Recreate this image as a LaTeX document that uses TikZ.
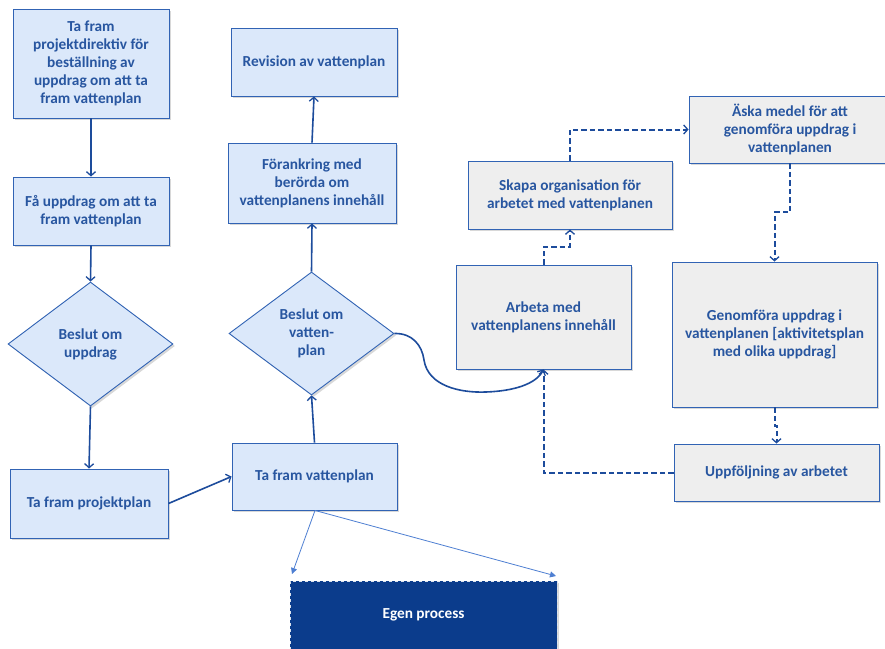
\documentclass[tikz,border=0pt]{standalone}
\usepackage{fontspec}
\setmainfont{Carlito}
\usetikzlibrary{shapes.geometric,arrows.meta,shadows}
\definecolor{lblue}{HTML}{DBE8FA}
\definecolor{bord}{HTML}{3163B4}
\definecolor{txt}{HTML}{2856A0}
\definecolor{arr}{HTML}{1D4C9C}
\definecolor{lgray}{HTML}{EEEEEE}
\definecolor{egen}{HTML}{0B3C8C}
\definecolor{thin}{HTML}{4E7FD2}
\tikzset{
  base/.style={draw=bord, line width=0.9pt, inner sep=0pt, align=center, text=txt,
    font=\fontsize{15.3}{18}\selectfont\bfseries,
    drop shadow={shadow xshift=2pt, shadow yshift=-2pt, opacity=0.3, fill=gray}},
  bbox/.style={base, rectangle, fill=lblue},
  gbox/.style={base, rectangle, fill=lgray},
  dbox/.style={base, diamond, fill=lblue},
  sz/.style 2 args={minimum width=#1pt, minimum height=#2pt},
  solidarr/.style={draw=arr, line width=1.6pt, -{Straight Barb[length=4pt,width=9pt,line width=1.3pt]}},
  dasharr/.style={draw=arr, line width=2pt, dash pattern=on 5.5pt off 3pt, -{Straight Barb[length=4pt,width=9pt,line width=1.3pt]}},
  thinarr/.style={draw=thin, line width=0.8pt, -{Triangle[length=6pt,width=6pt]}}
}
\begin{document}
\begin{tikzpicture}[x=1pt,y=-1pt]
\useasboundingbox (0,0) rectangle (885,648);
\clip (0,0) rectangle (885,648);
\fill[white] (0,0) rectangle (885,648);

% left column
\node[bbox, sz={156}{109}] (b1) at (91,63.5) {Ta fram\\projektdirektiv för\\beställning av\\uppdrag om att ta\\fram vattenplan};
\node[bbox, sz={156}{68}] (b2) at (91,211) {Få uppdrag om att ta\\fram vattenplan};
\node[dbox, sz={165}{124}] (d1) at (90.5,344) {Beslut om\\uppdrag};
\node[bbox, sz={158}{69}] (b4) at (89,503.5) {Ta fram projektplan};

% middle column
\node[bbox, sz={165}{67}] (b5) at (314.5,476.5) {Ta fram vattenplan};
\node[dbox, sz={165}{123}] (d2) at (311.5,333.5) {Beslut om\\vatten-\\plan};
\node[bbox, sz={168}{80}] (b7) at (312,183) {Förankring med\\berörda om\\vattenplanens innehåll};
\node[bbox, sz={166}{68}] (b8) at (314,62) {Revision av vattenplan};

% right part
\node[gbox, sz={204}{68}] (skapa) at (570,195) {Skapa organisation för\\arbetet med vattenplanen};
\node[gbox, sz={202}{67}] (aska) at (790,129.5) {Äska medel för att\\genomföra uppdrag i\\vattenplanen};
\node[gbox, sz={175}{104}] (arb) at (543.5,317) {Arbeta med\\vattenplanens innehåll};
\node[gbox, sz={205}{145}] (gen) at (774.5,334.5) {Genomföra uppdrag i\\vattenplanen [aktivitetsplan\\med olika uppdrag]};
\node[gbox, sz={205}{57}] (upp) at (776.5,472.5) {Uppföljning av arbetet};

% egen process
\node[draw=white!85!egen, dashed, line width=0.8pt, fill=egen, inner sep=0pt,
  minimum width=267pt, minimum height=72pt,
  drop shadow={shadow xshift=2pt, shadow yshift=-2pt, opacity=0.3, fill=gray}] (eg) at (423.5,617) {};
\node[text=white, font=\fontsize{15.3}{18}\selectfont\bfseries] (egt) at (423.5,615) {Egen process};

% solid connectors
\draw[solidarr] (b1.south) -- (b2.north);
\draw[solidarr] (b2.south) -- (d1.north);
\draw[solidarr] (d1.south) -- (b4.north);
\draw[solidarr] (b4.east) -- (b5.west);
\draw[solidarr] (b5.north) -- (d2.south);
\draw[solidarr] (d2.north) -- (b7.south);
\draw[solidarr] (b7.north) -- (b8.south);
\draw[solidarr] (d2.east) .. controls (412,333) and (422,345) .. (424,360)
   .. controls (428,386) and (460,393) .. (486,392)
   .. controls (514,391) and (536,384) .. (arb.south);

% dashed connectors
\draw[dasharr] (upp.west) -| (arb.south);
\draw[dasharr] (arb.north) -- ++(0,-18) -| (skapa.south);
\draw[dasharr] (skapa.north) |- (aska.west);
\draw[dasharr] (aska.south) -- ++(0,49) -| (gen.north);
\draw[dasharr] (gen.south) -- ++(0,19) -| (upp.north);

% thin arrows to egen process
\coordinate (e1) at (292,574);
\coordinate (e2) at (556,576);
\draw[thinarr] ([xshift=0.5pt]b5.south) -- (e1);
\draw[thinarr] ([xshift=0.5pt]b5.south) -- (e2);
\end{tikzpicture}
\end{document}
